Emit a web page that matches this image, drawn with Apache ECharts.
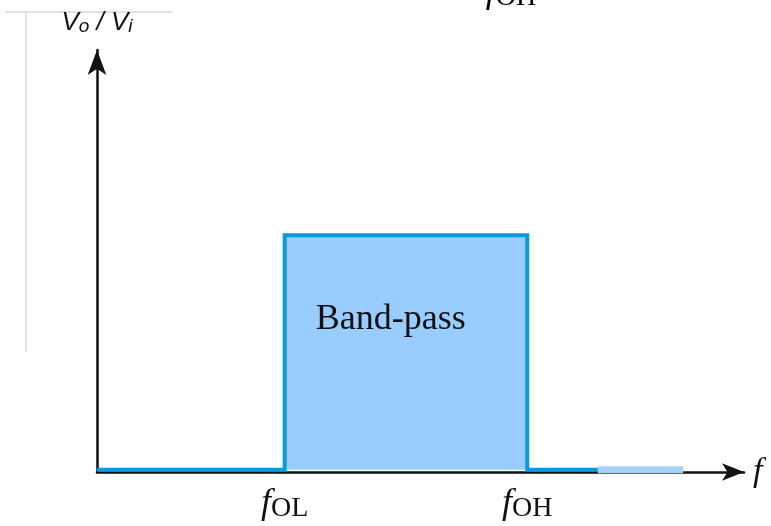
<!DOCTYPE html>
<html>
<head>
<meta charset="utf-8">
<script src="https://cdn.jsdelivr.net/npm/echarts@6/dist/echarts.min.js"></script>
<style>
  html, body { margin: 0; padding: 0; background: #fff; }
  #chart { width: 771px; height: 526px; }
</style>
</head>
<body>
<div id="chart"></div>
<script>
// response outline: frequency (arbitrary units) vs gain Vo/Vi
const freq = [0, 29, 29, 66.5, 66.5, 77.4]
const gain = [0, 0, 1, 1, 0, 0]
// pass band fill
const bandFreq = [29, 66.5]
const bandGain = [1, 1]
// faint tail after the band
const tailFreq = [77.4, 90.6]
const tailGain = [0, 0]
// cutoff ticks
const tickValues = [29, 66.5]
const tickLabels = ['OL', 'OH']
const bandLabelPos = [45.4, 0.64]

const blue = '#0a9ade'
const fill = '#99ccff'
const serif = 'Liberation Serif'

const zip = (xs, ys) => xs.map((x, i) => [x, ys[i]])

const chart = echarts.init(document.getElementById('chart'))

const fRich = {
  f: { fontFamily: serif, fontStyle: 'italic', fontSize: 36, color: '#111' },
  s: { fontFamily: serif, fontSize: 28, color: '#111', padding: [10, 0, 0, 0] }
}

chart.setOption({
  animation: false,
  grid: { left: 97, right: 27, top: 50, bottom: 54 },
  xAxis: {
    type: 'value',
    min: 0,
    max: 100,
    name: 'f',
    nameLocation: 'end',
    nameGap: 9,
    nameTextStyle: { fontFamily: serif, fontStyle: 'italic', fontSize: 34, color: '#111' },
    axisLine: {
      onZero: false,
      symbol: ['none', 'arrow'],
      symbolSize: [13, 22],
      lineStyle: { color: '#111', width: 2.5 }
    },
    axisTick: { show: false },
    splitLine: { show: false },
    axisLabel: {
      customValues: tickValues,
      margin: 13,
      verticalAlign: 'top',
      formatter: (v) => '{f|f}{s|' + tickLabels[tickValues.indexOf(v)] + '}',
      rich: fRich
    }
  },
  yAxis: {
    type: 'value',
    min: -0.01,
    max: 1.79,
    name: '{v|V}{s|o}{v| / V}{s|i}',
    nameLocation: 'end',
    nameGap: 14,
    nameTextStyle: {
      align: 'center',
      fontSize: 26,
      rich: {
        v: { fontFamily: 'Liberation Sans', fontStyle: 'italic', fontSize: 26, color: '#111' },
        s: { fontFamily: 'Liberation Sans', fontStyle: 'italic', fontSize: 19, color: '#111', padding: [7, 0, 0, 0] }
      }
    },
    axisLine: {
      symbol: ['none', 'arrow'],
      symbolSize: [14, 25],
      lineStyle: { color: '#111', width: 2.5 }
    },
    axisTick: { show: false },
    axisLabel: { show: false },
    splitLine: { show: false }
  },
  series: [
    {
      name: 'band',
      type: 'line',
      data: zip(bandFreq, bandGain),
      symbol: 'none',
      lineStyle: { width: 0 },
      areaStyle: { color: fill, opacity: 1 },
      z: 2,
      markPoint: {
        symbol: 'circle',
        symbolSize: 0,
        data: [{ coord: bandLabelPos, value: 'Band-pass' }],
        label: {
          show: true,
          position: 'inside',
          formatter: 'Band-pass',
          fontFamily: serif,
          fontSize: 36,
          color: '#111'
        }
      }
    },
    {
      name: 'tail',
      type: 'line',
      data: zip(tailFreq, tailGain),
      symbol: 'none',
      lineStyle: { color: '#a6d2f5', width: 7 },
      z: 3
    },
    {
      name: 'outline',
      type: 'line',
      data: zip(freq, gain),
      symbol: 'none',
      lineStyle: { color: blue, width: 4, join: 'miter', cap: 'butt' },
      z: 4
    }
  ],
  graphic: [
    { type: 'line', shape: { x1: 5, y1: 12, x2: 172, y2: 12 }, style: { stroke: '#c4c4c4', lineWidth: 1 } },
    { type: 'line', shape: { x1: 26, y1: 12, x2: 26, y2: 352 }, style: { stroke: '#c4c4c4', lineWidth: 1 } },
    {
      type: 'text',
      x: 511,
      y: -26,
      style: { text: '{f|f}{s|OH}', align: 'center', verticalAlign: 'top', rich: fRich }
    }
  ]
})
</script>
</body>
</html>
